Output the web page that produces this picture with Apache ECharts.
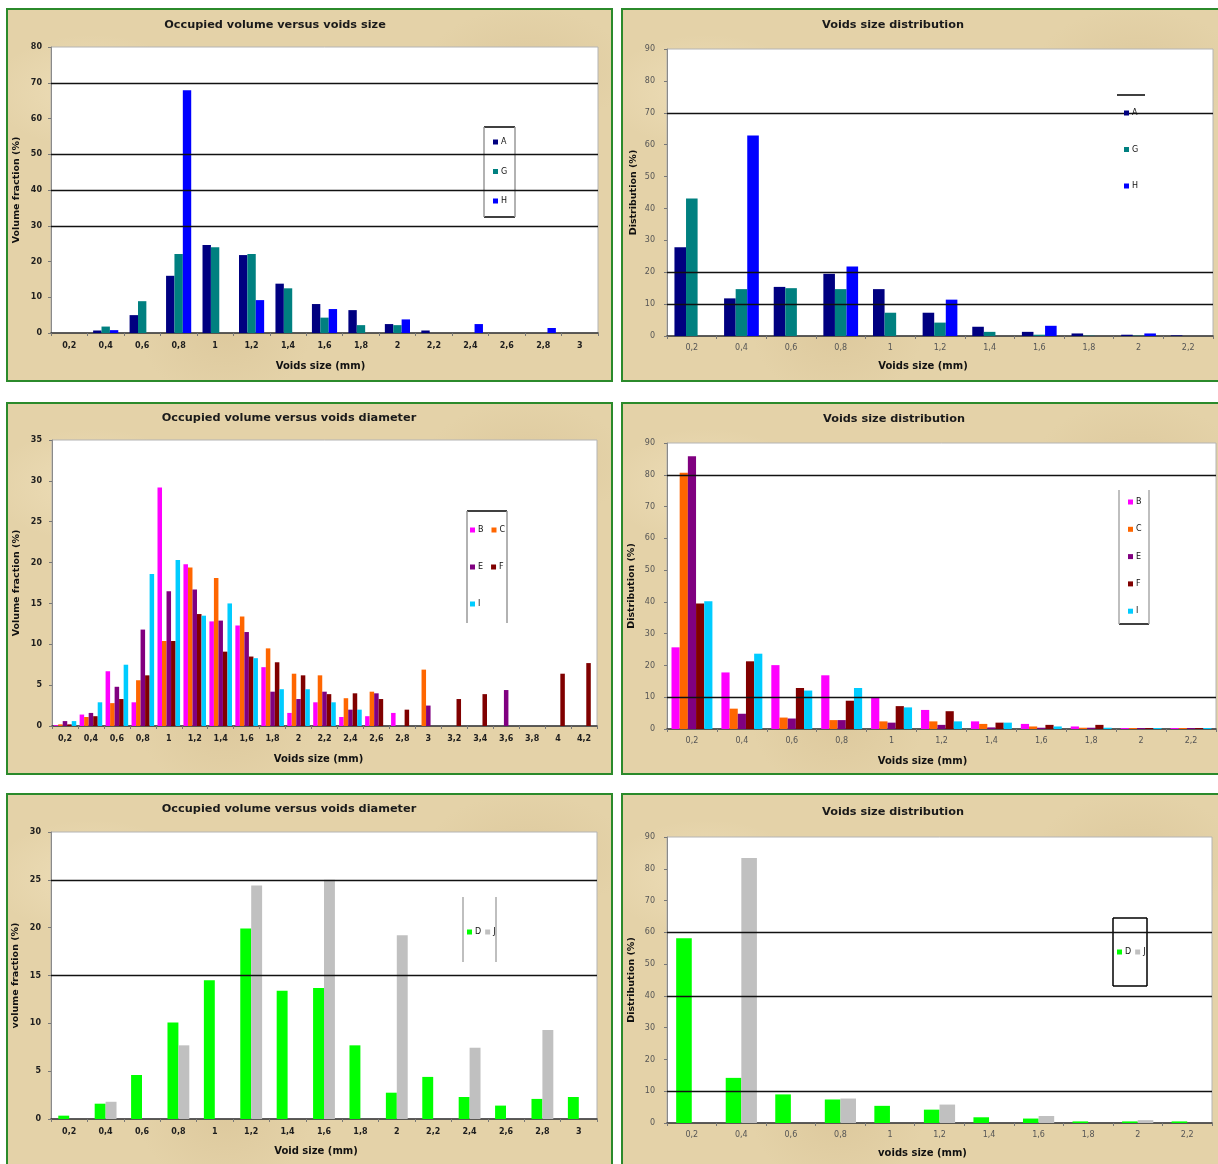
<!DOCTYPE html>
<html>
<head>
<meta charset="utf-8">
<title>Voids size measurements</title>
<script src="https://cdn.jsdelivr.net/npm/echarts@6/dist/echarts.min.js"></script>
<style>
  html, body { margin: 0; padding: 0; background: #fff; }
  #wrap { position: relative; width: 1218px; height: 1164px; overflow: hidden; }
  .panel {
    position: absolute; box-sizing: border-box; border: 2px solid #2b8a2b;
    background-color: #e4d2a8;
    background-image:
      radial-gradient(ellipse at 14% 22%, rgba(244,230,196,.55) 0, rgba(244,230,196,0) 14%),
      radial-gradient(ellipse at 66% 64%, rgba(244,230,196,.45) 0, rgba(244,230,196,0) 18%),
      radial-gradient(ellipse at 36% 86%, rgba(205,180,132,.3) 0, rgba(205,180,132,0) 16%),
      radial-gradient(ellipse at 86% 16%, rgba(205,180,132,.28) 0, rgba(205,180,132,0) 14%),
      radial-gradient(ellipse at 50% 36%, rgba(240,224,188,.4) 0, rgba(240,224,188,0) 20%);
  }
  #chart { position: absolute; left: 0; top: 0; width: 1218px; height: 1164px; }
</style>
</head>
<body>
<div id="wrap">
  <div class="panel" style="left:6px;top:8px;width:607px;height:374px"></div>
  <div class="panel" style="left:621px;top:8px;width:601px;height:374px"></div>
  <div class="panel" style="left:6px;top:402px;width:607px;height:373px"></div>
  <div class="panel" style="left:621px;top:402px;width:601px;height:373px"></div>
  <div class="panel" style="left:6px;top:793px;width:607px;height:377px"></div>
  <div class="panel" style="left:621px;top:793px;width:601px;height:377px"></div>
  <div id="chart"></div>
</div>
<script>
// Void size classes (mm), decimal comma as printed on the axes
const sizes15 = ['0,2','0,4','0,6','0,8','1','1,2','1,4','1,6','1,8','2','2,2','2,4','2,6','2,8','3'];
const sizes11 = ['0,2','0,4','0,6','0,8','1','1,2','1,4','1,6','1,8','2','2,2'];
const sizes21 = ['0,2','0,4','0,6','0,8','1','1,2','1,4','1,6','1,8','2','2,2','2,4','2,6','2,8','3','3,2','3,4','3,6','3,8','4','4,2'];

// Samples A, G, H — occupied volume fraction (%)
const volA = [null, 0.7, 5.0, 16.0, 24.6, 21.8, 13.8, 8.1, 6.4, 2.5, 0.7, null, null, null, null];
const volG = [null, 1.8, 8.9, 22.1, 24.0, 22.1, 12.5, 4.3, 2.2, 2.2, null, null, null, null, null];
const volH = [null, 0.8, null, 67.9, null, 9.2, null, 6.7, null, 3.8, null, 2.5, null, 1.4, null];

// Samples A, G, H — size distribution (%)
const distA = [27.8, 11.8, 15.4, 19.5, 14.7, 7.3, 2.9, 1.3, 0.8, 0.4, 0.2];
const distG = [43.1, 14.7, 15.0, 14.7, 7.3, 4.2, 1.3, 0.4, 0.1, 0.1, null];
const distH = [null, 62.9, null, 21.8, null, 11.4, null, 3.2, null, 0.8, null];

// Samples B, C, E, F, I — occupied volume fraction (%)
const volB = [0.1, 1.4, 6.7, 2.9, 29.2, 19.8, 12.8, 12.3, 7.2, 1.6, 2.9, 1.1, 1.2, 1.6, null, null, null, null, null, null, null];
const volC = [0.2, 1.1, 2.8, 5.6, 10.4, 19.4, 18.1, 13.4, 9.5, 6.4, 6.2, 3.4, 4.2, null, 6.9, null, null, null, null, null, null];
const volE = [0.6, 1.6, 4.8, 11.8, 16.5, 16.7, 12.9, 11.5, 4.2, 3.3, 4.2, 2.0, 4.0, null, 2.5, null, null, 4.4, null, null, null];
const volF = [0.2, 1.2, 3.3, 6.2, 10.4, 13.7, 9.1, 8.5, 7.8, 6.2, 3.9, 4.0, 3.3, 2.0, null, 3.3, 3.9, null, null, 6.4, 7.7];
const volI = [0.6, 2.9, 7.5, 18.6, 20.3, 13.5, 15.0, 8.3, 4.5, 4.5, 2.9, 2.0, null, null, null, null, null, null, null, null, null];

// Samples B, C, E, F, I — size distribution (%)
const distB = [25.7, 17.8, 20.1, 16.9, 9.9, 6.0, 2.4, 1.6, 0.8, 0.3, 0.3];
const distC = [80.6, 6.4, 3.6, 2.8, 2.4, 2.4, 1.6, 0.8, 0.4, 0.3, 0.3];
const distE = [85.8, 4.8, 3.3, 2.8, 2.0, 1.3, 0.5, 0.4, 0.4, 0.3, 0.3];
const distF = [39.5, 21.3, 12.9, 8.9, 7.2, 5.6, 2.0, 1.3, 1.3, 0.3, 0.3];
const distI = [40.2, 23.7, 12.1, 12.9, 6.8, 2.4, 2.0, 0.8, 0.4, 0.3, 0.3];

// Samples D, J — occupied volume fraction (%)
const volD = [0.35, 1.6, 4.6, 10.1, 14.5, 19.9, 13.4, 13.7, 7.7, 2.75, 4.4, 2.3, 1.4, 2.1, 2.3];
const volJ = [null, 1.8, null, 7.7, null, 24.4, null, 25.0, null, 19.2, null, 7.45, null, 9.3, null];

// Samples D, J — size distribution (%)
const distD = [58.1, 14.2, 9.0, 7.4, 5.4, 4.2, 1.8, 1.4, 0.5, 0.5, 0.5];
const distJ = [null, 83.4, null, 7.7, null, 5.8, null, 2.2, null, 0.9, null];

// Horizontal rules drawn across each plot
const rules1 = [70, 50, 40, 30];
const rules2 = [70, 20, 10];
const rules3 = [];
const rules4 = [80, 10];
const rules5 = [25, 15];
const rules6 = [60, 40, 10];

const colors = {
  A: '#000080', G: '#008080', H: '#0000ff',
  B: '#ff00ff', C: '#ff6600', E: '#800080', F: '#800000', I: '#00ccff',
  D: '#00ff00', J: '#c0c0c0'
};

const FONT = 'DejaVu Sans';

const panels = [
  {
    title: 'Occupied volume versus voids size', titleX: 275, titleY: 20,
    grid: { left: 51, top: 47, width: 547, height: 286 },
    cats: sizes15, yMax: 80, yStep: 10,
    yName: 'Volume fraction (%)', xName: 'Voids size (mm)', xShift: -4,
    xNameGap: 28, yNameGap: 29, xLabelMargin: 9, yLabelMargin: 9, bold: true,
    series: [['A', volA], ['G', volG], ['H', volH]], rules: rules1, catGap: '31%',
    legends: [{ left: 493, top: 137, orient: 'vertical', itemGap: 19.5, data: ['A', 'G', 'H'] }],
    box: { x: 484, y: 127, w: 31, h: 90, top: '#000', bottom: '#000', left: '#999', right: '#999' }
  },
  {
    title: 'Voids size distribution', titleX: 893, titleY: 20,
    grid: { left: 667, top: 49, width: 546, height: 287 },
    cats: sizes11, yMax: 90, yStep: 10,
    yName: 'Distribution (%)', xName: 'Voids size (mm)', xShift: -17,
    xNameGap: 25, yNameGap: 28, xLabelMargin: 8, yLabelMargin: 12, bold: false,
    series: [['A', distA], ['G', distG], ['H', distH]], rules: rules2, catGap: '30%',
    legends: [{ left: 1124, top: 108, orient: 'vertical', itemGap: 26.5, data: ['A', 'G', 'H'] }],
    box: { x: 1117, y: 95, w: 28, h: 105, top: '#000' }
  },
  {
    title: 'Occupied volume versus voids diameter', titleX: 289, titleY: 413,
    grid: { left: 52, top: 440, width: 545, height: 286 },
    cats: sizes21, yMax: 35, yStep: 5,
    yName: 'Volume fraction (%)', xName: 'Voids size (mm)', xShift: -6,
    xNameGap: 28, yNameGap: 30, xLabelMargin: 9, yLabelMargin: 10, bold: true,
    series: [['B', volB], ['C', volC], ['E', volE], ['F', volF], ['I', volI]], rules: rules3, catGap: '13%',
    legends: [
      { left: 470, top: 525, orient: 'horizontal', itemGap: 8, data: ['B', 'C'] },
      { left: 470, top: 562, orient: 'horizontal', itemGap: 8, data: ['E', 'F'] },
      { left: 470, top: 599, orient: 'horizontal', itemGap: 8, data: ['I'] }
    ],
    box: { x: 467, y: 511, w: 40, h: 112, top: '#000', left: '#999', right: '#999' }
  },
  {
    title: 'Voids size distribution', titleX: 894, titleY: 414,
    grid: { left: 667, top: 443, width: 549, height: 286 },
    cats: sizes11, yMax: 90, yStep: 10,
    yName: 'Distribution (%)', xName: 'Voids size (mm)', xShift: -19,
    xNameGap: 27, yNameGap: 30, xLabelMargin: 8, yLabelMargin: 12, bold: false,
    series: [['B', distB], ['C', distC], ['E', distE], ['F', distF], ['I', distI]], rules: rules4, catGap: '18%',
    legends: [{ left: 1128, top: 497, orient: 'vertical', itemGap: 17.3, data: ['B', 'C', 'E', 'F', 'I'] }],
    box: { x: 1119, y: 490, w: 30, h: 134, bottom: '#000', left: '#aaa', right: '#aaa' }
  },
  {
    title: 'Occupied volume versus voids diameter', titleX: 289, titleY: 804,
    grid: { left: 51, top: 832, width: 546, height: 287 },
    cats: sizes15, yMax: 30, yStep: 5,
    yName: 'volume fraction (%)', xName: 'Void size (mm)', xShift: -8,
    xNameGap: 27, yNameGap: 30, xLabelMargin: 9, yLabelMargin: 10, bold: true,
    series: [['D', volD], ['J', volJ]], rules: rules5, catGap: '40%',
    legends: [{ left: 467, top: 927, orient: 'horizontal', itemGap: 4, data: ['D', 'J'] }],
    box: { x: 463, y: 897, w: 33, h: 65, left: '#aaa', right: '#aaa' }
  },
  {
    title: 'Voids size distribution', titleX: 893, titleY: 807,
    grid: { left: 667, top: 837, width: 545, height: 286 },
    cats: sizes11, yMax: 90, yStep: 10,
    yName: 'Distribution (%)', xName: 'voids size (mm)', xShift: -17,
    xNameGap: 25, yNameGap: 30, xLabelMargin: 8, yLabelMargin: 12, bold: false,
    series: [['D', distD], ['J', distJ]], rules: rules6, catGap: '37%',
    legends: [{ left: 1117, top: 947, orient: 'horizontal', itemGap: 4, data: ['D', 'J'] }],
    box: { x: 1113, y: 918, w: 34, h: 68, top: '#000', bottom: '#000', left: '#000', right: '#000' }
  }
];

const option = {
  animation: false,
  textStyle: { fontFamily: FONT },
  title: [], grid: [], xAxis: [], yAxis: [], series: [], legend: [],
  graphic: { elements: [] }
};

panels.forEach((p, i) => {
  const labelColor = p.bold ? '#1e1e1e' : '#555';
  const labelWeight = p.bold ? 'bold' : 'normal';

  option.title.push({
    text: p.title, left: p.titleX, top: p.titleY, textAlign: 'center', padding: 0,
    textStyle: { fontFamily: FONT, fontWeight: 'bold', fontSize: 11.3, color: '#1a1a1a' }
  });

  option.grid.push(Object.assign({
    show: true, backgroundColor: '#ffffff', borderColor: '#b4b4b4', borderWidth: 1,
    containLabel: false, outerBoundsMode: 'none'
  }, p.grid));

  const shift = p.xShift;
  option.xAxis.push({
    type: 'category', gridIndex: i, data: p.cats,
    name: p.xName, nameLocation: 'middle', nameGap: p.xNameGap,
    nameTextStyle: {
      fontFamily: FONT, fontWeight: 'bold', fontSize: 10, color: '#111',
      padding: shift < 0 ? [0, -2 * shift, 0, 0] : [0, 0, 0, 2 * shift]
    },
    axisLine: { show: true, lineStyle: { color: '#333', width: 1.5 } },
    axisTick: { show: true, interval: 0, length: 3, alignWithLabel: false, lineStyle: { color: '#777' } },
    axisLabel: { interval: 0, fontSize: 8, fontFamily: FONT, fontWeight: labelWeight, color: labelColor, margin: p.xLabelMargin },
    splitLine: { show: false }
  });

  option.yAxis.push({
    type: 'value', gridIndex: i, min: 0, max: p.yMax, interval: p.yStep,
    name: p.yName, nameLocation: 'middle', nameGap: p.yNameGap,
    nameTextStyle: { fontFamily: FONT, fontWeight: 'bold', fontSize: 9.5, color: '#111' },
    axisLine: { show: true, lineStyle: { color: '#8a8a8a', width: 1 } },
    axisTick: { show: true, length: 3, lineStyle: { color: '#777' } },
    axisLabel: { fontSize: 8, fontFamily: FONT, fontWeight: labelWeight, color: labelColor, margin: p.yLabelMargin },
    splitLine: { show: false }
  });

  // black rules behind the bars
  option.series.push({
    type: 'line', name: 'rules-' + (i + 1), xAxisIndex: i, yAxisIndex: i,
    data: [], z: 1, silent: true, symbol: 'none',
    markLine: {
      silent: true, symbol: ['none', 'none'], label: { show: false },
      lineStyle: { color: '#111', width: 1.4, type: 'solid' },
      emphasis: { disabled: true },
      data: p.rules.map(v => ({ yAxis: v }))
    }
  });

  p.series.forEach(([name, values]) => {
    option.series.push({
      type: 'bar', name, xAxisIndex: i, yAxisIndex: i, data: values, z: 2,
      barGap: '0%', barCategoryGap: p.catGap, silent: true,
      itemStyle: { color: colors[name] }
    });
  });

  p.legends.forEach(l => {
    option.legend.push({
      left: l.left, top: l.top, orient: l.orient, itemGap: l.itemGap, data: l.data,
      icon: 'rect', itemWidth: 5, itemHeight: 5, padding: 0, selectedMode: false,
      textStyle: { fontFamily: FONT, fontSize: 8, color: '#111', lineHeight: 10, padding: [0, 0, 0, -2] },
      z: 6
    });
  });

  // legend frame: white fill with individually coloured edges
  const b = p.box;
  option.graphic.elements.push({
    type: 'rect', z: 5, silent: true,
    shape: { x: b.x, y: b.y, width: b.w, height: b.h },
    style: { fill: '#ffffff', stroke: null }
  });
  const edges = {
    top: [b.x, b.y, b.x + b.w, b.y],
    bottom: [b.x, b.y + b.h, b.x + b.w, b.y + b.h],
    left: [b.x, b.y, b.x, b.y + b.h],
    right: [b.x + b.w, b.y, b.x + b.w, b.y + b.h]
  };
  Object.keys(edges).forEach(k => {
    if (!b[k]) return;
    const e = edges[k];
    option.graphic.elements.push({
      type: 'line', z: 5, silent: true,
      shape: { x1: e[0], y1: e[1], x2: e[2], y2: e[3] },
      style: { stroke: b[k], lineWidth: 1.5 }
    });
  });
});

const chart = echarts.init(document.getElementById('chart'), null, { renderer: 'canvas' });
chart.setOption(option);
</script>
</body>
</html>
